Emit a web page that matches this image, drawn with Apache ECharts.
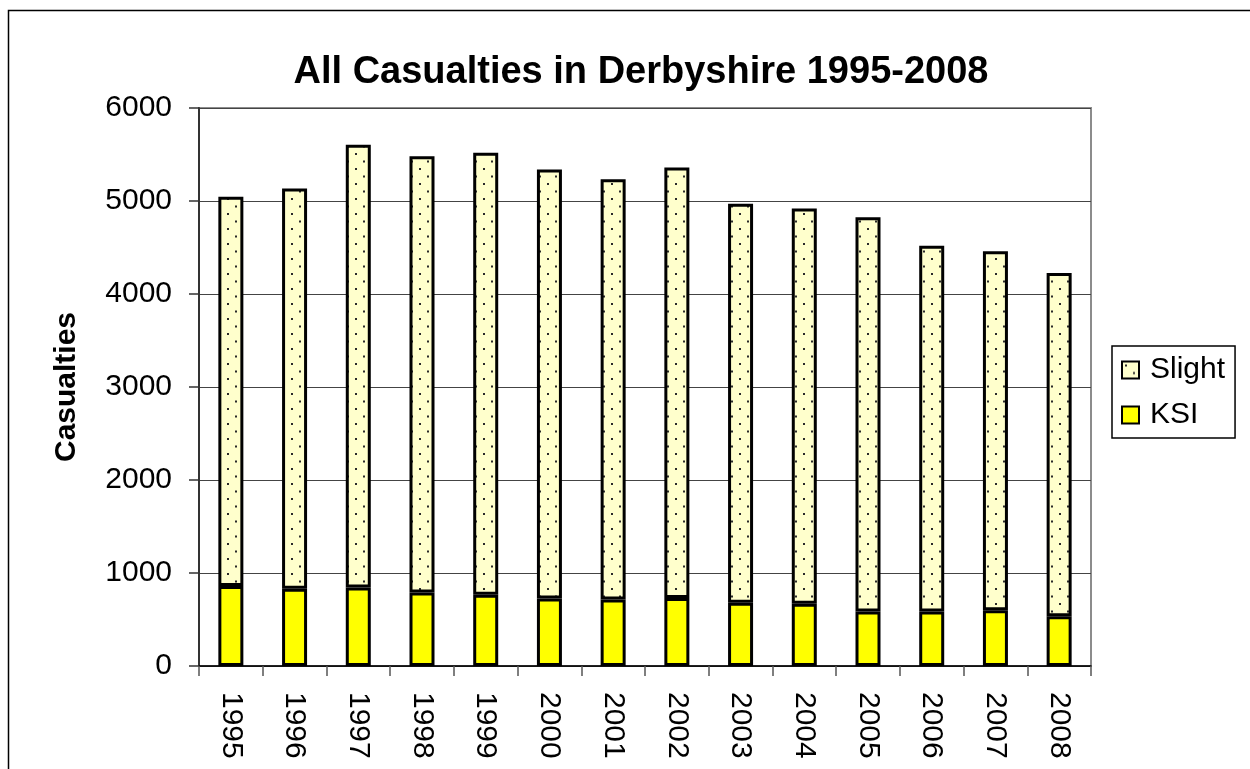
<!DOCTYPE html>
<html>
<head>
<meta charset="utf-8">
<title>All Casualties in Derbyshire 1995-2008</title>
<script src="https://cdn.jsdelivr.net/npm/echarts@6/dist/echarts.min.js"></script>
<style>
  html, body { margin: 0; padding: 0; background: #ffffff; }
  #chart { width: 1250px; height: 769px; }
</style>
</head>
<body>
<div id="chart"></div>
<script>
// Casualty counts per year, Derbyshire
const years = ['1995', '1996', '1997', '1998', '1999', '2000', '2001',
               '2002', '2003', '2004', '2005', '2006', '2007', '2008'];
// Killed or seriously injured
const ksi = [860, 830, 845, 790, 765, 725, 715, 730, 680, 670, 585, 585, 600, 535];
// Slightly injured
const slight = [4185, 4305, 4760, 4690, 4755, 4615, 4520, 4630, 4290, 4250, 4240, 3935, 3860, 3690];
const yTicks = [0, 1000, 2000, 3000, 4000, 5000, 6000];

const FONT = '"Liberation Sans", Arial, Helvetica, sans-serif';

// Stippled fill for the "Slight" segments
function dotPattern() {
  const c = document.createElement('canvas');
  c.width = 16; c.height = 15;
  const g = c.getContext('2d');
  g.fillStyle = '#FFFFCC';
  g.fillRect(0, 0, 16, 15);
  g.fillStyle = '#2a2a2a';
  g.fillRect(3, 3, 2, 2);
  g.fillRect(11, 10.5, 2, 2);
  return c;
}

const chart = echarts.init(document.getElementById('chart'), null, { renderer: 'canvas' });

chart.setOption({
  backgroundColor: '#ffffff',
  animation: false,
  title: {
    text: 'All Casualties in Derbyshire 1995-2008',
    left: 636,
    textAlign: 'center',
    top: 49,
    textStyle: { fontFamily: FONT, fontWeight: 'bold', fontSize: 38, color: '#000' }
  },
  legend: {
    orient: 'vertical',
    left: 1112,
    top: 346,
    data: ['Slight', 'KSI'],
    icon: 'rect',
    itemWidth: 17,
    itemHeight: 17,
    itemGap: 15,
    padding: [9, 10, 8, 9],
    borderColor: '#000',
    borderWidth: 1.5,
    backgroundColor: '#fff',
    itemStyle: { borderColor: '#000', borderWidth: 2 },
    textStyle: { fontFamily: FONT, fontSize: 30, color: '#000', lineHeight: 30, padding: [0, 0, 0, 6] }
  },
  grid: {
    left: 199,
    right: 159,
    top: 108,
    bottom: 103,
    show: true,
    borderColor: '#8c8c8c',
    borderWidth: 2,
    backgroundColor: 'transparent'
  },
  xAxis: {
    type: 'category',
    data: years,
    boundaryGap: true,
    axisLine: { show: true, lineStyle: { color: '#000', width: 1.5 } },
    axisTick: { show: true, inside: false, length: 10, alignWithLabel: false, lineStyle: { color: '#555', width: 1.5 } },
    axisLabel: {
      rotate: -90,
      margin: 26,
      fontFamily: FONT,
      fontSize: 30,
      color: '#000'
    },
    splitLine: { show: false }
  },
  yAxis: {
    type: 'value',
    min: yTicks[0],
    max: yTicks[yTicks.length - 1],
    interval: yTicks[1] - yTicks[0],
    name: 'Casualties',
    nameLocation: 'middle',
    nameRotate: 90,
    nameGap: 117,
    nameTextStyle: { fontFamily: FONT, fontWeight: 'bold', fontSize: 30, color: '#000' },
    axisLine: { show: true, lineStyle: { color: '#333', width: 2 } },
    axisTick: { show: true, inside: false, length: 10, lineStyle: { color: '#333', width: 1.5 } },
    axisLabel: {
      margin: 27,
      fontFamily: FONT,
      fontSize: 30,
      color: '#000',
      formatter: function (v) { return String(v); }
    },
    splitLine: { show: true, lineStyle: { color: '#444', width: 1 } }
  },
  series: [
    {
      name: 'KSI',
      type: 'bar',
      stack: 'total',
      data: ksi,
      barWidth: 25,
      itemStyle: { color: '#FFFF00', borderColor: '#000', borderWidth: 3 }
    },
    {
      name: 'Slight',
      type: 'bar',
      stack: 'total',
      data: slight,
      barWidth: 25,
      itemStyle: {
        color: { image: dotPattern(), repeat: 'repeat' },
        borderColor: '#000',
        borderWidth: 3
      }
    }
  ],
  graphic: [
    {
      type: 'rect',
      silent: true,
      shape: { x: 8.5, y: 10.5, width: 1300, height: 800 },
      style: { fill: 'none', stroke: '#000', lineWidth: 1.5 }
    }
  ]
});
</script>
</body>
</html>
